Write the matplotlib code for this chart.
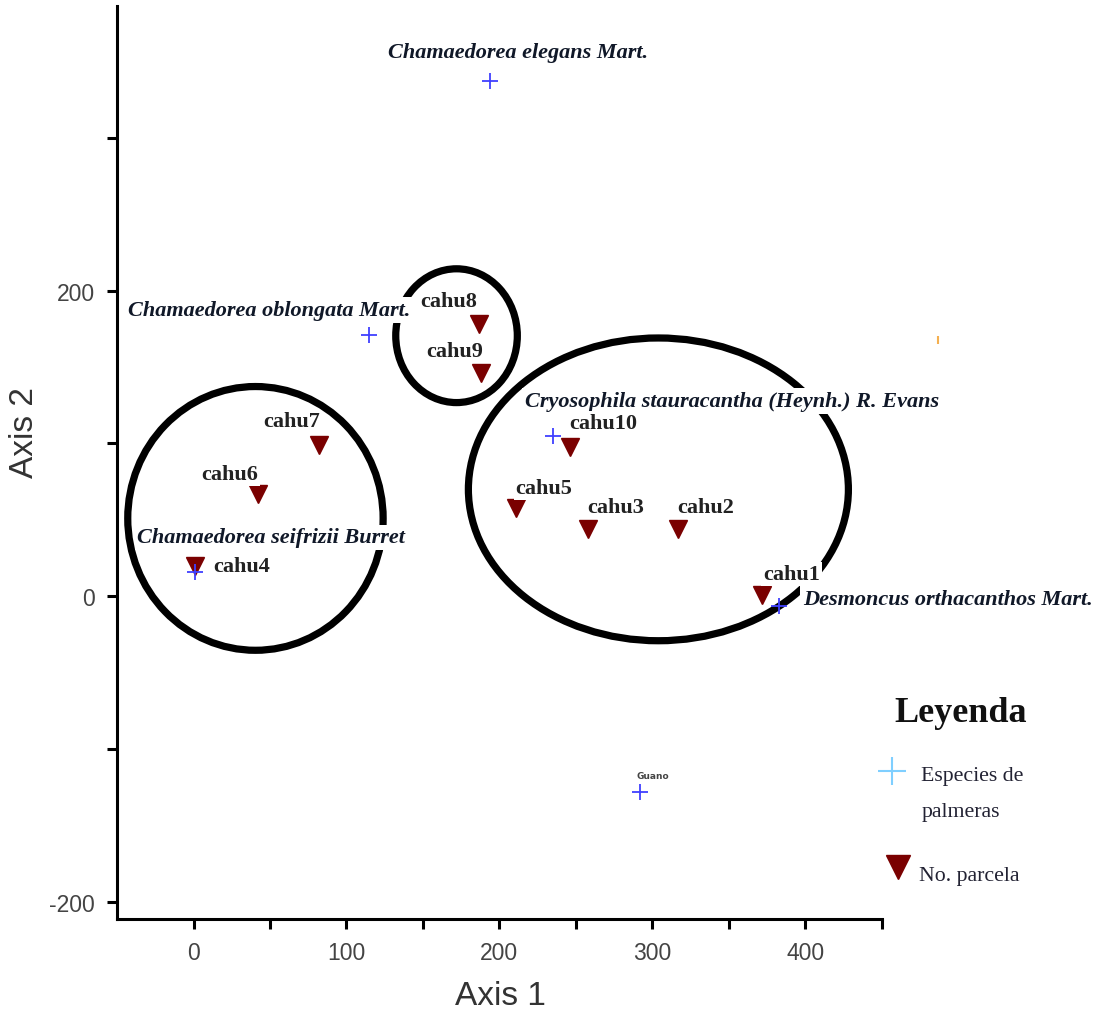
import matplotlib
matplotlib.use("Agg")
import matplotlib.pyplot as plt
from matplotlib.patches import Ellipse
from matplotlib.lines import Line2D

plt.rcParams["axes.unicode_minus"] = False

# ---------------- data ----------------
species_names = ["Chamaedorea elegans Mart.", "Chamaedorea oblongata Mart.",
                 "Cryosophila stauracantha (Heynh.) R. Evans", "Chamaedorea seifrizii Burret",
                 "Desmoncus orthacanthos Mart.", "Guano"]
species_x = [194, 115, 235, 1, 383, 292]
species_y = [337, 171, 105, 16, -6, -128]

plot_names = ["cahu1", "cahu2", "cahu3", "cahu4", "cahu5",
              "cahu6", "cahu7", "cahu8", "cahu9", "cahu10"]
plot_x = [372, 317, 258, 1, 211, 42, 82, 187, 188, 246]
plot_y = [1, 44, 44, 20, 58, 67, 99, 178, 146, 98]

# groups (ellipses): center x, center y, width, height
group_cx = [40.5, 172, 304]
group_cy = [51, 170.5, 70]
group_w = [167, 79.5, 248.5]
group_h = [172.5, 87.5, 198]

x_ticks = [0, 100, 200, 300, 400]
y_ticks = [-200, 0, 200]

# ---------------- layout ----------------
species_offsets = [(20, 21, "center"), (-72, 18, "center"), (129, 25, "center"),
                   (55, 25, "center"), (17, 5, "left"), (9, 12, "center")]
plot_offsets = {"cahu1": (21, 15, "center"), "cahu2": (20, 16, "center"),
                "cahu3": (20, 16, "center"), "cahu4": (13, 0, "left"),
                "cahu5": (20, 14, "center"), "cahu6": (-20, 14, "center"),
                "cahu7": (-20, 17, "center"), "cahu8": (-22, 17, "center"),
                "cahu9": (-19, 16, "center"), "cahu10": (24, 17, "center")}

fig = plt.figure(figsize=(10.97, 10.12), dpi=100)
ax = fig.add_axes([0.1067, 0.0909, 0.697, 0.902])
ax.set_xlim(-50, 448)
ax.set_ylim(-211, 386)

for cx, cy, w, h in zip(group_cx, group_cy, group_w, group_h):
    ax.add_patch(Ellipse((cx, cy), w, h, fill=False, edgecolor="black", lw=5.2, zorder=1))

ax.plot(plot_x, plot_y, linestyle="none", marker="v", ms=13, color="#7a0000", zorder=3)
ax.plot(species_x, species_y, linestyle="none", marker="+", ms=11, mew=1.3, color="#4040ff", zorder=4)

serif = "Liberation Serif"
for name, x, y, (dx, dy, ha) in zip(species_names, species_x, species_y, species_offsets):
    if name == "Guano":
        ax.annotate(name, (x, y), xytext=(dx, dy), textcoords="offset points",
                    ha=ha, va="center", fontsize=6.5, color="#444444",
                    family="DejaVu Sans", fontweight="bold", zorder=5)
    else:
        ax.annotate(name, (x, y), xytext=(dx, dy), textcoords="offset points",
                    ha=ha, va="center", fontsize=16, color="#101828",
                    family=serif, fontweight="bold", fontstyle="italic",
                    annotation_clip=False, zorder=5,
                    bbox=dict(boxstyle="square,pad=0.12", fc="white", ec="none"))

for name, x, y in zip(plot_names, plot_x, plot_y):
    dx, dy, ha = plot_offsets[name]
    ax.annotate(name, (x, y), xytext=(dx, dy), textcoords="offset points",
                ha=ha, va="center", fontsize=16, color="#222222",
                family=serif, fontweight="bold", zorder=5,
                bbox=dict(boxstyle="square,pad=0.08", fc="white", ec="none"))

# axes styling
for s in ["top", "right"]:
    ax.spines[s].set_visible(False)
for s in ["left", "bottom"]:
    ax.spines[s].set_linewidth(2.2)
ax.set_xticks(x_ticks)
ax.set_xticks([t + 50 for t in x_ticks], minor=True)
ax.set_yticks(y_ticks)
ax.set_yticks([-100, 100, 300], minor=True)
ax.tick_params(which="both", direction="out", length=7, width=2.2, color="black")
ax.tick_params(which="major", labelsize=16.5, labelcolor="#444444", pad=9,
               labelfontfamily="Liberation Sans")
ax.set_xlabel("Axis 1", fontsize=24, family="Liberation Sans", color="#333333")
ax.set_ylabel("Axis 2", fontsize=24, family="Liberation Sans", color="#333333")
ax.xaxis.set_label_coords((500 - 117) / 764.6, (920 - 981) / 913)
ax.yaxis.set_label_coords((40 - 117) / 764.6, (920 - 432) / 913)

# legend (figure coords)
W, H = 1097, 1012
def fx(px): return px / W
def fy(py): return 1 - py / H
fig.text(fx(961), fy(713), "Leyenda", ha="center", va="center", fontsize=26,
         family=serif, fontweight="bold", color="#111111")
fig.add_artist(Line2D([fx(892)], [fy(772)], marker="+", ms=20, mew=1.5, color="#7fcfff",
                      linestyle="none"))
fig.text(fx(921), fy(777), "Especies de", ha="left", va="center", fontsize=15.7,
         family=serif, color="#222233")
fig.text(fx(922), fy(812), "palmeras", ha="left", va="center", fontsize=15.7,
         family=serif, color="#222233")
fig.add_artist(Line2D([fx(898)], [fy(868)], marker="v", ms=17, color="#7a0000",
                      linestyle="none"))
fig.text(fx(919), fy(877), "No. parcela", ha="left", va="center", fontsize=15.7,
         family=serif, color="#222233")
fig.add_artist(Line2D([fx(938)], [fy(341)], marker="|", ms=6, mew=1.5, color="#f5b050",
                      linestyle="none"))

fig.savefig("out.png", dpi=100, facecolor="white")
